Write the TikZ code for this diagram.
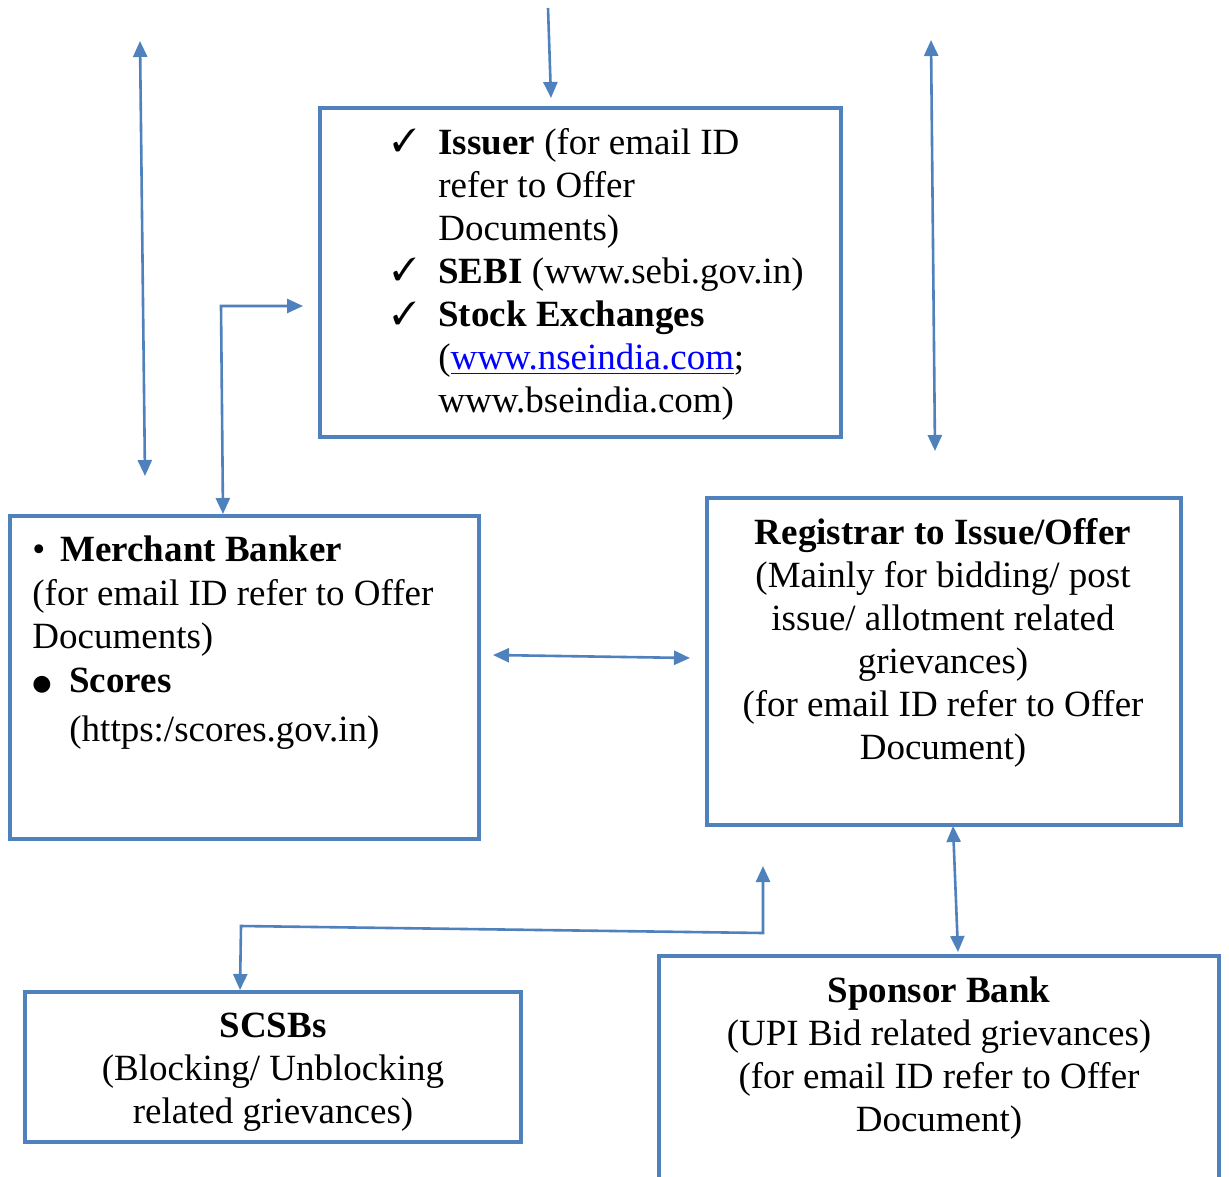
\documentclass[tikz,border=0pt]{standalone}
\usepackage{fontspec}
\setmainfont{Liberation Serif}
\newfontfamily\dejavu{DejaVu Sans}
\usepackage{pifont}
\usetikzlibrary{arrows.meta}
\definecolor{lineblue}{HTML}{4F81BD}
\definecolor{linkblue}{HTML}{0000FF}
\newcommand{\lst}[1]{\begin{tabular}[t]{@{}l@{}}#1\end{tabular}}
\newcommand{\cst}[1]{\begin{tabular}[t]{@{}c@{}}#1\end{tabular}}
\begin{document}
\begin{tikzpicture}[x=0.5pt,y=-0.5pt,
  box/.style={draw=lineblue, line width=2.2pt, inner sep=0pt, fill=none},
  conn/.style={draw=lineblue, line width=1.3pt, -{Triangle[width=7pt,length=8pt]}},
  dconn/.style={draw=lineblue, line width=1.3pt, {Triangle[width=7pt,length=8pt]}-{Triangle[width=7pt,length=8pt]}},
  txt/.style={inner sep=0pt, font=\fontsize{18.5}{21.5}\selectfont},
  chk/.style={inner sep=0pt, font=\fontsize{16}{16}\selectfont},
  ]
\clip (0,0) rectangle (1229,1176);
\fill[white] (0,0) rectangle (1229,1176);

% boxes
\node[box, minimum width=260.5pt, minimum height=164.5pt] (top) at (580.5,272.5) {};
\node[box, minimum width=234.5pt, minimum height=161.5pt] (merch) at (244.5,677.5) {};
\node[box, minimum width=237pt, minimum height=163.5pt] (reg) at (944,661.5) {};
\node[box, minimum width=248pt, minimum height=75pt] (scsb) at (273,1067) {};
\node[box, minimum width=280pt, minimum height=124pt] (spon) at (939,1080) {};

% top box text
\node[chk, anchor=base west] (ck1) at (392,152) {\ding{51}};
\node[chk, anchor=base west] (ck2) at (392,281) {\ding{51}};
\node[chk, anchor=base west] (ck3) at (392,324) {\ding{51}};
\node[txt, anchor=base west] (toptext) at (438,155) {\lst{\textbf{Issuer} (for email ID\\refer to Offer\\Documents)\\\textbf{SEBI} (www.sebi.gov.in)\\\textbf{Stock Exchanges}\\(\textcolor{linkblue}{\underline{www.nseindia.com}};\\www.bseindia.com)}};

% merchant box text
\node[txt, anchor=base west] (bul1) at (32,561) {•};
\node[txt, anchor=base west] (mb1) at (60,561) {\textbf{Merchant Banker}};
\node[txt, anchor=base west] (mb2) at (32,605) {\lst{(for email ID refer to Offer\\Documents)}};
\node[inner sep=0pt, anchor=base west, font=\dejavu\fontsize{11}{11}\selectfont] (bul2) at (32,690) {●};
\node[txt, anchor=base west] (mb3) at (69,692) {\textbf{Scores}};
\node[txt, anchor=base west] (mb4) at (69,741) {(https:/scores.gov.in)};

% registrar text
\node[txt, anchor=base] (regtext) at (943,544) {\cst{\textbf{Registrar to Issue/Offer}\\(Mainly for bidding/ post\\issue/ allotment related\\grievances)\\(for email ID refer to Offer\\Document)}};

% scsb text
\node[txt, anchor=base] (scsbtext) at (273,1037) {\cst{\textbf{SCSBs}\\(Blocking/ Unblocking\\related grievances)}};

% sponsor text
\node[txt, anchor=base] (spontext) at (939,1002) {\cst{\textbf{Sponsor Bank}\\(UPI Bid related grievances)\\(for email ID refer to Offer\\Document)}};

% connector end points
\coordinate (l1) at (140,41);
\coordinate (l2) at (145,476);
\coordinate (t1) at (548,8);
\coordinate (t2) at (551,98);
\coordinate (r1) at (931,40);
\coordinate (r2) at (935,451);
\coordinate (e1) at (303,306);
\coordinate (e2) at (221,306);
\coordinate (e3) at (223,514);
\coordinate (m1) at (493,655);
\coordinate (m2) at (690,658);
\coordinate (s1) at (240,990);
\coordinate (s2) at (241,926);
\coordinate (s3) at (763,933);
\coordinate (s4) at (763,866);
\coordinate (p1) at (953,826);
\coordinate (p2) at (958,952);

% connectors
\draw[dconn] (l1) -- (l2);
\draw[conn] (t1) -- (t2);
\draw[dconn] (r1) -- (r2);
\draw[dconn] (e1) -- (e2) -- (e3);
\draw[dconn] (m1) -- (m2);
\draw[dconn] (s1) -- (s2) -- (s3) -- (s4);
\draw[dconn] (p1) -- (p2);
\end{tikzpicture}
\end{document}
